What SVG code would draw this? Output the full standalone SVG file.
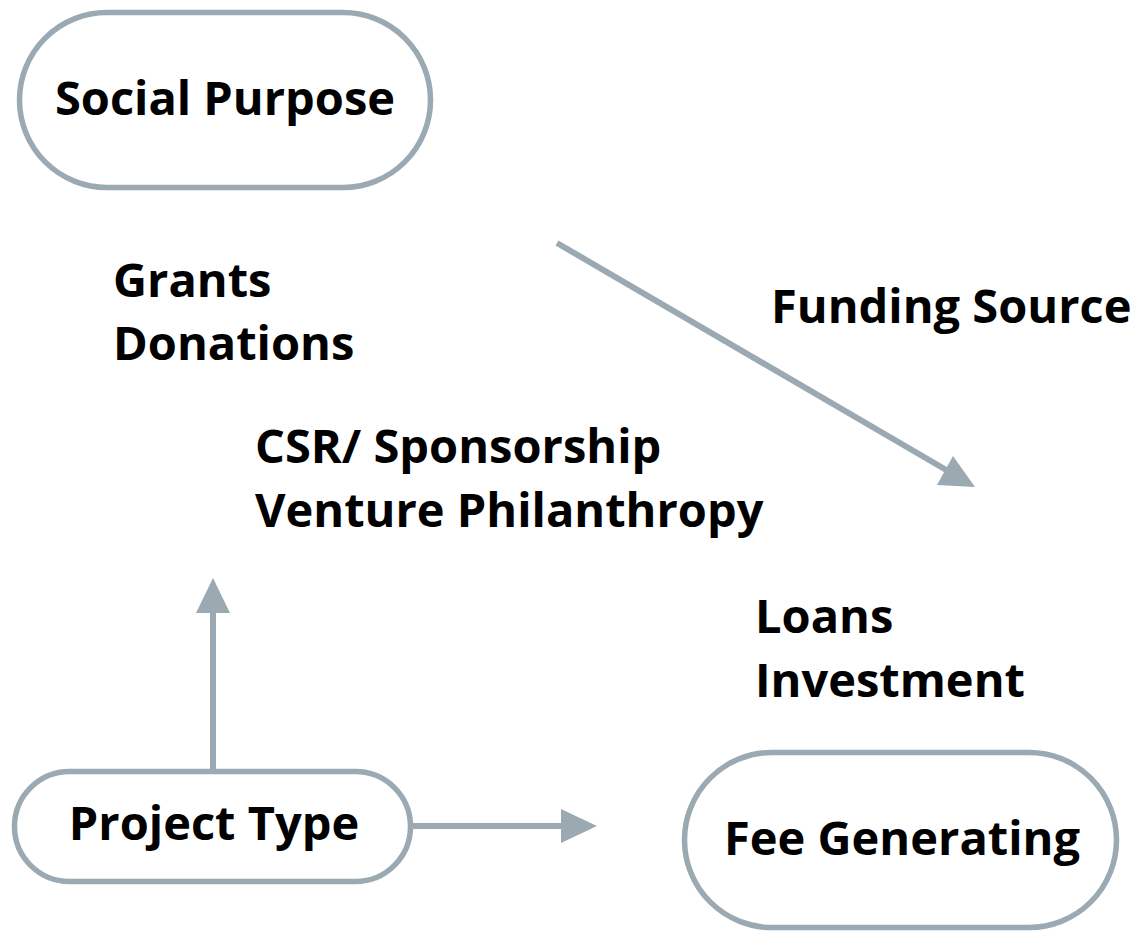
<svg xmlns="http://www.w3.org/2000/svg" width="1143" height="931" viewBox="0 0 1143 931">
<defs>
<style>
.node{fill:#ffffff;stroke:#9ba9b2;stroke-width:5.5}
.t{font-family:"Open Sans","DejaVu Sans",sans-serif;font-weight:700;font-size:47px;fill:#000}
.edge{stroke:#9ba9b2;stroke-width:6;fill:none}
.head{fill:#9ba9b2}
</style>
</defs>
<rect width="1143" height="931" fill="#ffffff"/>
<g id="social-purpose">
<rect class="node" x="19.5" y="12.5" width="411" height="175" rx="87.5"/>
<text class="t" x="225" y="115" text-anchor="middle">Social Purpose</text>
</g>
<g id="project-type">
<rect class="node" x="14.5" y="771.5" width="396" height="110" rx="55"/>
<text class="t" x="214" y="840" text-anchor="middle">Project Type</text>
</g>
<g id="fee-generating">
<rect class="node" x="684.5" y="752.5" width="432" height="175" rx="87.5"/>
<text class="t" x="902" y="855" text-anchor="middle">Fee Generating</text>
</g>
<g id="labels">
<text class="t" x="113" y="297">Grants</text>
<text class="t" x="113" y="360">Donations</text>
<text class="t" x="771" y="323">Funding Source</text>
<text class="t" x="255" y="463">CSR/ Sponsorship</text>
<text class="t" x="255" y="527">Venture Philanthropy</text>
<text class="t" x="755" y="633">Loans</text>
<text class="t" x="755" y="697">Investment</text>
</g>
<g id="connectors">
<line class="edge" x1="213" y1="771" x2="213" y2="610"/>
<polygon class="head" points="213,578 230,613 196,613"/>
<line class="edge" x1="411" y1="826" x2="564" y2="826"/>
<polygon class="head" points="597,826 561,809 561,843"/>
<line class="edge" x1="557" y1="243" x2="948" y2="471"/>
<polygon class="head" points="975,487 937,485 953,456"/>
</g>
</svg>
